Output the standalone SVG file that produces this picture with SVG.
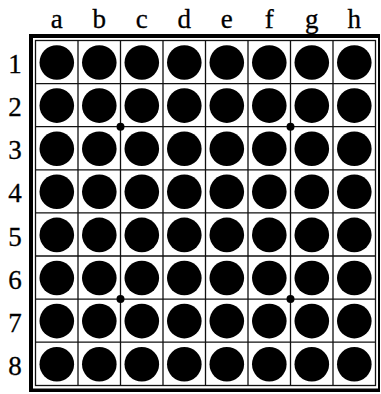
<svg xmlns="http://www.w3.org/2000/svg" width="381" height="394" viewBox="0 0 381 394">
<style>
.lbl{font-family:"Liberation Serif","Times New Roman",serif;font-size:27px;fill:#000;text-anchor:middle;stroke:#000;stroke-width:0.3}
.grid{stroke:#111;stroke-width:1.3;fill:none}
.disc{fill:#000}
</style>
<rect width="381" height="394" fill="#fff"/>
<g id="frame">
<line x1="31" y1="34" x2="31" y2="392" stroke="#000" stroke-width="4"/>
<line x1="29" y1="36" x2="380" y2="36" stroke="#000" stroke-width="4"/>
<line x1="379" y1="34" x2="379" y2="392" stroke="#000" stroke-width="2"/>
<line x1="29" y1="390.3" x2="380" y2="390.3" stroke="#000" stroke-width="3.5"/>
</g>
<g id="grid" class="grid">
<rect x="35.5" y="40.5" width="340" height="345"/>
<path d="M78 40.5V385.5M120.5 40.5V385.5M163 40.5V385.5M205.5 40.5V385.5M248 40.5V385.5M290.5 40.5V385.5M333 40.5V385.5"/>
<path d="M35.5 83.6H375.5M35.5 126.7H375.5M35.5 169.8H375.5M35.5 212.9H375.5M35.5 256H375.5M35.5 299.1H375.5M35.5 342.2H375.5"/>
</g>
<g id="dots" class="disc">
<circle cx="120.5" cy="126.7" r="4"/>
<circle cx="290.5" cy="126.7" r="4"/>
<circle cx="120.5" cy="299.1" r="4"/>
<circle cx="290.5" cy="299.1" r="4"/>
</g>
<g id="col-labels" class="lbl">
<text x="56.8" y="27.5">a</text>
<text x="99.3" y="27.5">b</text>
<text x="141.8" y="27.5">c</text>
<text x="184.3" y="27.5">d</text>
<text x="226.8" y="27.5">e</text>
<text x="269.3" y="27.5">f</text>
<text x="311.8" y="27.5">g</text>
<text x="354.3" y="27.5">h</text>
</g>
<g id="row-labels" class="lbl">
<text x="15" y="73">1</text>
<text x="15" y="116">2</text>
<text x="15" y="159">3</text>
<text x="15" y="202">4</text>
<text x="15" y="246">5</text>
<text x="15" y="289">6</text>
<text x="15" y="332">7</text>
<text x="15" y="375">8</text>
</g>
<defs>
<g id="row">
<circle class="disc" cx="56.8" cy="0" r="17.3"/>
<circle class="disc" cx="99.3" cy="0" r="17.3"/>
<circle class="disc" cx="141.8" cy="0" r="17.3"/>
<circle class="disc" cx="184.3" cy="0" r="17.3"/>
<circle class="disc" cx="226.8" cy="0" r="17.3"/>
<circle class="disc" cx="269.3" cy="0" r="17.3"/>
<circle class="disc" cx="311.8" cy="0" r="17.3"/>
<circle class="disc" cx="354.3" cy="0" r="17.3"/>
</g>
</defs>
<g id="discs">
<use href="#row" y="62.5"/>
<use href="#row" y="105.6"/>
<use href="#row" y="148.7"/>
<use href="#row" y="191.8"/>
<use href="#row" y="234.9"/>
<use href="#row" y="278"/>
<use href="#row" y="321.1"/>
<use href="#row" y="364.2"/>
</g>
</svg>
